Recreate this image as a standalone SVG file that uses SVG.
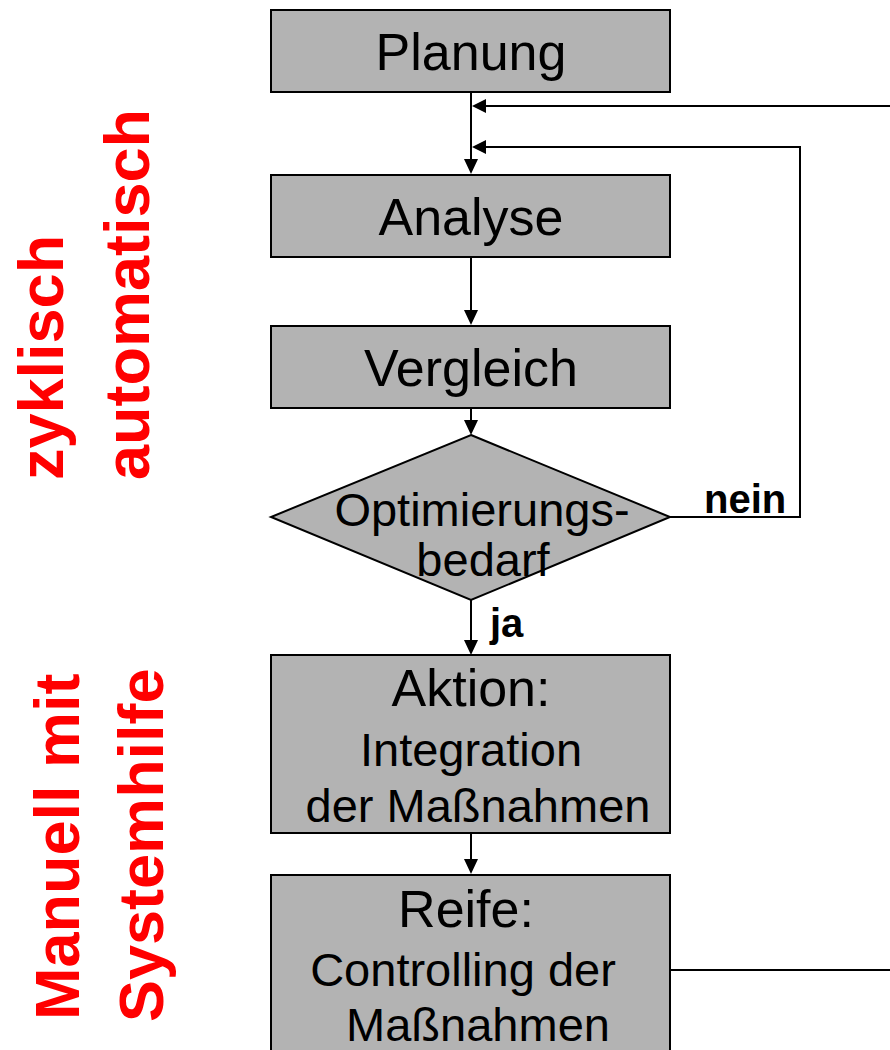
<svg xmlns="http://www.w3.org/2000/svg" width="890" height="1050" viewBox="0 0 890 1050">
<style>
.box{fill:#b3b3b3;stroke:#000;stroke-width:2}
.t{font-family:"Liberation Sans",Arial,sans-serif;fill:#000;text-anchor:middle}
.big{font-size:52px}
.mid{font-size:47px}
.lbl{font-family:"Liberation Sans",Arial,sans-serif;font-weight:bold;font-size:40px;fill:#000}
.red{font-family:"Liberation Sans",Arial,sans-serif;font-weight:bold;font-size:63px;fill:#ff0000}
.ln{fill:none;stroke:#000;stroke-width:2}
</style>
<defs>
<marker id="ah" markerWidth="10" markerHeight="10" refX="10" refY="5" orient="auto" markerUnits="userSpaceOnUse" viewBox="0 0 10 10">
<path d="M0,0 L10,5 L0,10 Z" fill="#000"/>
</marker>
</defs>
<rect width="890" height="1050" fill="#fff"/>
<g id="side-labels">
<text class="red" transform="translate(63,480) rotate(-90)">zyklisch</text>
<text class="red" transform="translate(149,480) rotate(-90)">automatisch</text>
<text class="red" transform="translate(79,1020) rotate(-90)">Manuell mit</text>
<text class="red" transform="translate(163,1022) rotate(-90)">Systemhilfe</text>
</g>
<g id="connectors">
<path class="ln" d="M471,92 V160"/>
<path d="M464,159 L478,159 L471,174 Z"/>
<path class="ln" d="M890,106 H486"/>
<path d="M486,99 L486,113 L472,106 Z"/>
<path class="ln" d="M670,517 H800 V147 H486"/>
<path d="M486,140 L486,154 L472,147 Z"/>
<path class="ln" d="M471,257 V311"/>
<path d="M464,310 L478,310 L471,325 Z"/>
<path class="ln" d="M471,408 V421"/>
<path d="M464,420 L478,420 L471,435 Z"/>
<path class="ln" d="M471,600 V641"/>
<path d="M464,640 L478,640 L471,655 Z"/>
<path class="ln" d="M471,833 V860"/>
<path d="M464,859 L478,859 L471,874 Z"/>
<path class="ln" d="M670,970 H890"/>
<text class="lbl" x="704" y="513">nein</text>
<text class="lbl" x="490" y="637">ja</text>
</g>
<g id="planung">
<rect class="box" x="271" y="10" width="399" height="82"/>
<text class="t big" x="471" y="70">Planung</text>
</g>
<g id="analyse">
<rect class="box" x="271" y="175" width="399" height="82"/>
<text class="t big" x="471" y="235">Analyse</text>
</g>
<g id="vergleich">
<rect class="box" x="271" y="326" width="399" height="82"/>
<text class="t big" x="471" y="386">Vergleich</text>
</g>
<g id="optimierungsbedarf">
<polygon class="box" points="471,435 670,517 471,600 271,517"/>
<text class="t mid" x="482" y="526">Optimierungs-</text>
<text class="t mid" x="483" y="576">bedarf</text>
</g>
<g id="aktion">
<rect class="box" x="271" y="655" width="399" height="178"/>
<text class="t big" x="471" y="706">Aktion:</text>
<text class="t mid" x="471" y="766">Integration</text>
<text class="t mid" x="478" y="822">der Maßnahmen</text>
</g>
<g id="reife">
<rect class="box" x="271" y="875" width="399" height="185"/>
<text class="t big" x="466" y="927">Reife:</text>
<text class="t mid" x="463" y="986">Controlling der</text>
<text class="t mid" x="478" y="1041">Maßnahmen</text>
</g>
</svg>
